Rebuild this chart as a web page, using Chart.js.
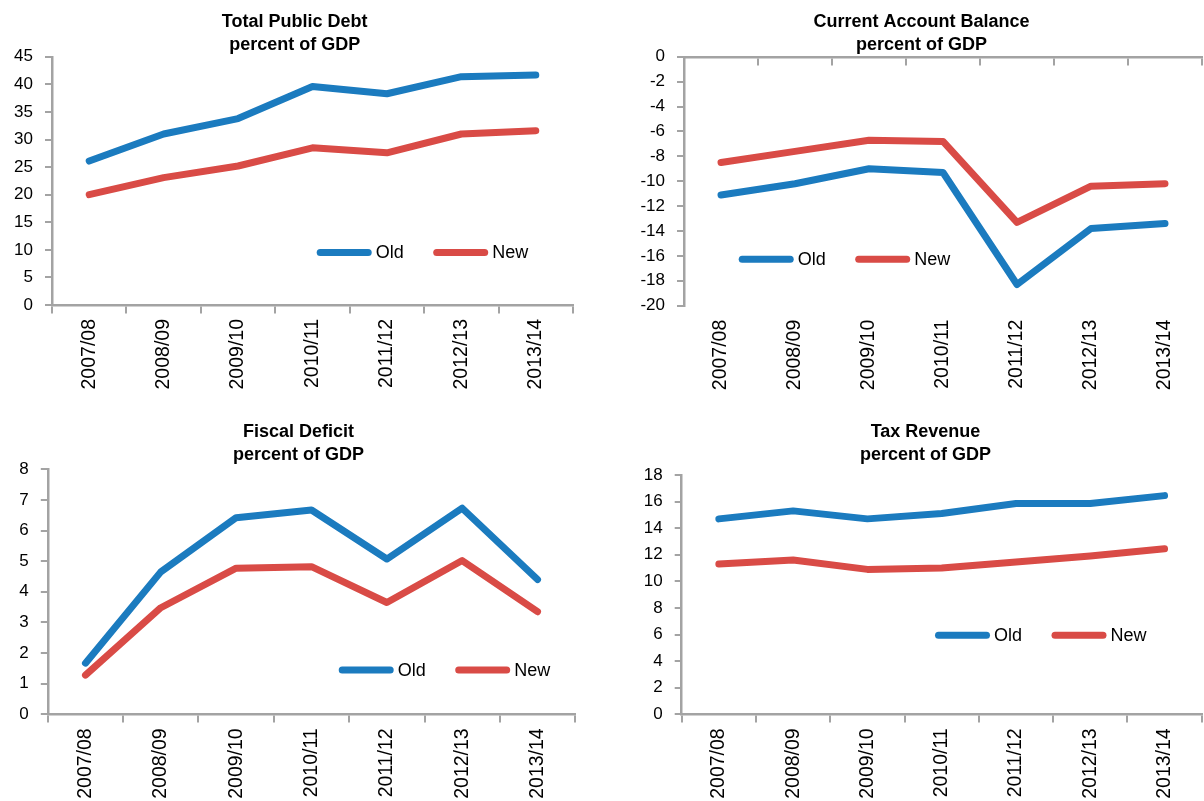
<!DOCTYPE html>
<html>
<head>
<meta charset="utf-8">
<script src="https://cdn.jsdelivr.net/npm/chart.js@4.4.1/dist/chart.umd.min.js"></script>
<style>
  html, body { margin: 0; padding: 0; background: #ffffff; }
  body { width: 1204px; height: 801px; position: relative; overflow: hidden; }
  canvas { position: absolute; }
</style>
</head>
<body>
<canvas id="debt"></canvas>
<canvas id="cab"></canvas>
<canvas id="deficit"></canvas>
<canvas id="tax"></canvas>
<script>
// Fiscal years on the category axis
const years = ['2007/08', '2008/09', '2009/10', '2010/11', '2011/12', '2012/13', '2013/14'];
const seriesNames = ['Old', 'New'];

// Total public debt, percent of GDP
const debtOld = [26.1, 31.0, 33.8, 39.6, 38.3, 41.4, 41.7];
const debtNew = [20.0, 23.1, 25.2, 28.5, 27.6, 31.0, 31.6];

// Current account balance, percent of GDP
const cabOld = [-11.1, -10.2, -9.0, -9.3, -18.3, -13.8, -13.4];
const cabNew = [-8.5, -7.6, -6.7, -6.8, -13.3, -10.4, -10.2];

// Fiscal deficit, percent of GDP
const deficitOld = [1.67, 4.65, 6.42, 6.67, 5.07, 6.73, 4.40];
const deficitNew = [1.28, 3.48, 4.77, 4.82, 3.65, 5.02, 3.35];

// Tax revenue, percent of GDP
const taxOld = [14.7, 15.3, 14.7, 15.1, 15.85, 15.85, 16.45];
const taxNew = [11.3, 11.6, 10.9, 11.0, 11.45, 11.9, 12.45];

// Value-axis ranges: [min, max, step]
const debtRange = [0, 45, 5];
const cabRange = [-20, 0, 2];
const deficitRange = [0, 8, 1];
const taxRange = [0, 18, 2];

const subtitle = 'percent of GDP';
const FONT = '"Liberation Sans", Arial, sans-serif';
const BLUE = '#1b7bbf';
const RED = '#d94b46';
const AXIS = '#a3a3a3';

// Legend drawn inside the plot: a thick line sample followed by the series name
const insetLegend = {
  id: 'insetLegend',
  afterDraw(chart, args, opts) {
    const ctx = chart.ctx;
    ctx.save();
    chart.data.datasets.forEach((ds, i) => {
      const x = opts.x + i * opts.spacing;
      const y = opts.y;
      ctx.beginPath();
      ctx.lineCap = 'round';
      ctx.lineWidth = 7;
      ctx.strokeStyle = ds.borderColor;
      ctx.moveTo(x, y);
      ctx.lineTo(x + 48, y);
      ctx.stroke();
      ctx.fillStyle = '#000';
      ctx.font = '18px ' + FONT;
      ctx.textAlign = 'left';
      ctx.textBaseline = 'middle';
      ctx.fillText(ds.label, x + 48 + 7.5, y + 1);
    });
    ctx.restore();
  }
};

function makePanel(p) {
  const canvas = document.getElementById(p.id);
  canvas.width = p.w;
  canvas.height = p.h;
  canvas.style.left = p.left + 'px';
  canvas.style.top = p.top + 'px';
  canvas.style.width = p.w + 'px';
  canvas.style.height = p.h + 'px';

  const lineStyle = {
    borderWidth: 7,
    pointRadius: 0,
    pointHoverRadius: 0,
    tension: 0,
    fill: false,
    borderJoinStyle: 'round',
    borderCapStyle: 'round',
    xAxisID: 'x',
    yAxisID: 'y'
  };

  new Chart(canvas, {
    type: 'line',
    data: {
      labels: years,
      datasets: [
        Object.assign({ label: seriesNames[0], data: p.old, borderColor: BLUE, backgroundColor: BLUE }, lineStyle),
        Object.assign({ label: seriesNames[1], data: p.neu, borderColor: RED, backgroundColor: RED }, lineStyle)
      ]
    },
    options: {
      responsive: false,
      animation: false,
      devicePixelRatio: 1,
      events: [],
      layout: { padding: { left: 0, right: p.padR, top: 0, bottom: 0 } },
      scales: {
        // axis line with tick marks, crossing the value axis at zero
        x: {
          type: 'category',
          position: { y: 0 },
          offset: true,
          grid: {
            display: true, offset: true, drawOnChartArea: false, drawTicks: true,
            tickLength: 7, color: AXIS, lineWidth: 2
          },
          border: { display: true, color: AXIS, width: 2.5 },
          ticks: { display: false }
        },
        // category labels along the bottom
        xl: {
          type: 'category',
          position: 'bottom',
          offset: true,
          grid: { display: false, drawTicks: false },
          border: { display: false },
          ticks: {
            autoSkip: false, minRotation: 90, maxRotation: 90, padding: 14,
            color: '#000', font: { family: FONT, size: 19.5 }
          },
          afterFit(scale) { scale.height = p.xHeight; }
        },
        y: {
          type: 'linear',
          position: 'left',
          min: p.range[0],
          max: p.range[1],
          ticks: {
            stepSize: p.range[2], padding: 12, color: '#000',
            font: { family: FONT, size: 17 }
          },
          grid: {
            display: true, drawOnChartArea: false, drawTicks: true,
            tickLength: 7, color: AXIS, lineWidth: 2
          },
          border: { display: true, color: AXIS, width: 2.5 },
          afterFit(scale) { scale.width = p.yWidth; }
        },
        // empty margin on the right of the plot
        gap: {
          type: 'linear',
          position: 'right',
          grid: { display: false, drawTicks: false },
          border: { display: false },
          ticks: { display: false },
          afterFit(scale) { scale.width = p.gap; }
        }
      },
      plugins: {
        legend: { display: false },
        tooltip: { enabled: false },
        title: {
          display: true,
          text: [p.title, subtitle],
          color: '#000',
          font: { family: FONT, size: 18, weight: 'bold', lineHeight: 1.3 },
          padding: { top: 10, bottom: p.titlePadBottom }
        },
        insetLegend: { x: p.legendX, y: p.legendY, spacing: 116.5 }
      }
    },
    plugins: [insetLegend]
  });
}

makePanel({
  id: 'debt', title: 'Total Public Debt', old: debtOld, neu: debtNew, range: debtRange,
  left: 0, top: 0, w: 600, h: 400,
  padR: 10.6, gap: 16.4, yWidth: 52, xHeight: 95, titlePadBottom: 0,
  legendX: 320.2, legendY: 252.5
});

makePanel({
  id: 'cab', title: 'Current Account Balance', old: cabOld, neu: cabNew, range: cabRange,
  left: 636, top: 0, w: 572, h: 400,
  padR: 0.8, gap: 5.2, yWidth: 48, xHeight: 94.3, titlePadBottom: 0,
  legendX: 106.2, legendY: 259.3
});

makePanel({
  id: 'deficit', title: 'Fiscal Deficit', old: deficitOld, neu: deficitNew, range: deficitRange,
  left: 0, top: 410, w: 600, h: 391,
  padR: 3, gap: 21.8, yWidth: 47.8, xHeight: 86.7, titlePadBottom: 2.5,
  legendX: 342.2, legendY: 260
});

makePanel({
  id: 'tax', title: 'Tax Revenue', old: taxOld, neu: taxNew, range: taxRange,
  left: 640, top: 410, w: 572, h: 391,
  padR: 1, gap: 9.3, yWidth: 41.7, xHeight: 86.7, titlePadBottom: 8.2,
  legendX: 298.5, legendY: 225.3
});
</script>
</body>
</html>
